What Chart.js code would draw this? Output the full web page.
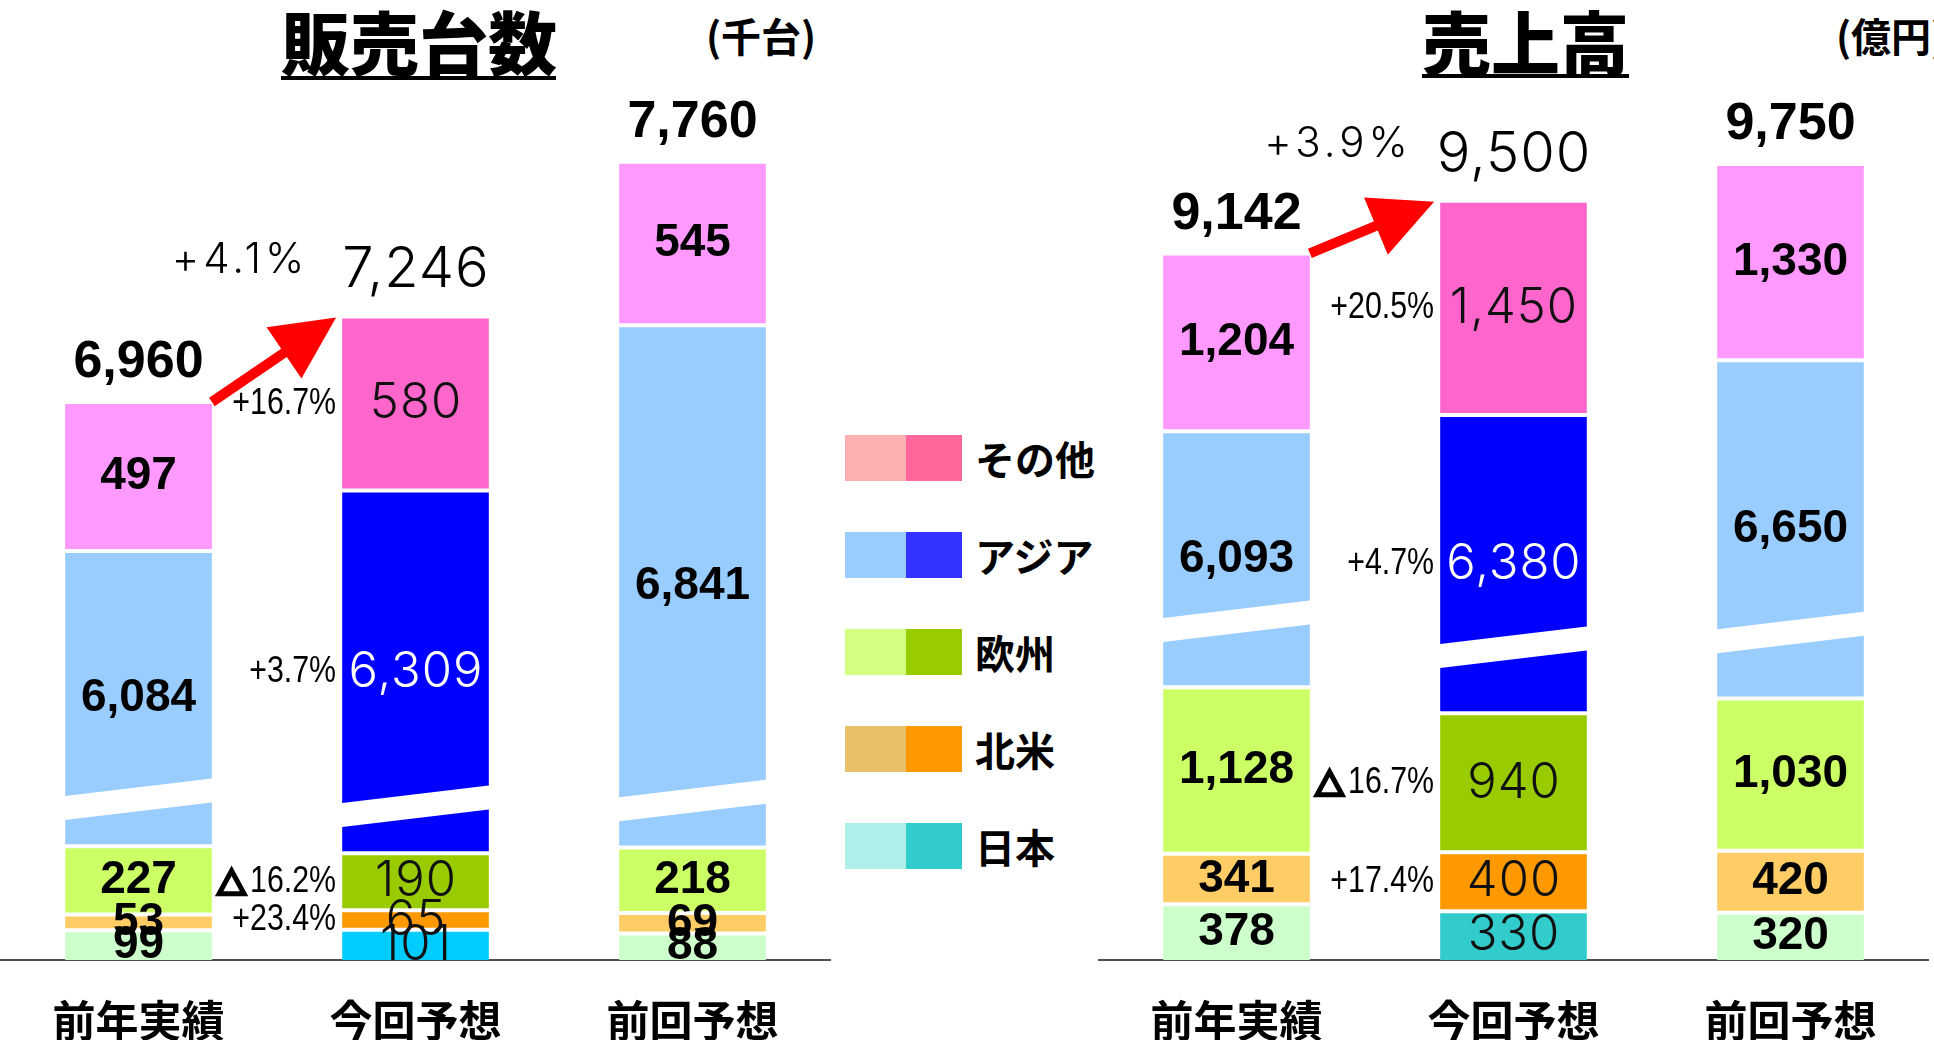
<!DOCTYPE html>
<html lang="ja">
<head>
<meta charset="utf-8">
<title>販売台数・売上高</title>
<script src="https://cdn.jsdelivr.net/npm/chart.js@4.4.0/dist/chart.umd.min.js"></script>
<style>
  html, body { margin: 0; padding: 0; background: #fff; width: 1934px; height: 1040px; overflow: hidden; }
  .chart-box { position: absolute; top: 0; width: 831px; height: 1040px; }
  #unitsBox { left: 0; }
  #salesBox { left: 1098px; }
  .title {
    position: absolute; top: 6px; margin: 0;
    font-family: "Noto Sans CJK JP", sans-serif; font-weight: 900; font-size: 69px; line-height: 1;
    white-space: nowrap;
  }
  .underline { position: absolute; height: 4px; background: #000; }
  .unit {
    position: absolute; top: 15px; white-space: nowrap;
    font-family: "Noto Sans CJK JP", sans-serif; font-weight: 700; font-size: 40px; line-height: 1;
  }
  .legend { position: absolute; left: 845px; top: 435px; }
  .legend-row { position: relative; height: 46px; margin-bottom: 51px; }
  .sw { position: absolute; top: 0; height: 46px; }
  .sw.light { left: 0; width: 61px; }
  .sw.dark { left: 61px; width: 56px; }
  .legend-row span {
    position: absolute; left: 130px; top: 0; line-height: 46px; white-space: nowrap;
    font-family: "Noto Sans CJK JP", sans-serif; font-weight: 700; font-size: 40px;
  }
</style>
</head>
<body>
<div class="title" style="left:281px;">販売台数</div>
<div class="underline" style="left:281px; top:76px; width:275px;"></div>
<div class="unit" style="left:706px;">(千台)</div>

<div class="title" style="left:1422px;">売上高</div>
<div class="underline" style="left:1422px; top:74px; width:207px;"></div>
<div class="unit" style="left:1836px;">(億円)</div>

<div class="chart-box" id="unitsBox"><canvas id="unitsChart" width="831" height="1040"></canvas></div>
<div class="chart-box" id="salesBox"><canvas id="salesChart" width="831" height="1040"></canvas></div>

<div class="legend" id="legend"></div>

<script>
// 地域別 販売台数 / 売上高
// - stacked bars, Asia segment shown with a broken axis
// - value labels, change rates and total growth arrow

const categories = ['前年実績', '今回予想', '前回予想'];
const regionNames = ['日本', '北米', '欧州', 'アジア', 'その他'];

// 販売台数 (千台)
const unitsJapan = [99, 101, 88];
const unitsNorthAmerica = [53, 65, 69];
const unitsEurope = [227, 190, 218];
const unitsAsia = [6084, 6309, 6841];
const unitsOther = [497, 580, 545];
const unitsTotal = [6960, 7246, 7760];
const unitsChange = ['', '+23.4%', '△16.2%', '+3.7%', '+16.7%'];
const unitsGrowth = '+4.1%';
const unitsAxisBreak = 5100;   // amount cut out of the Asia segment
const unitsAxisMax = 3200;

// 売上高 (億円)
const salesJapan = [378, 330, 320];
const salesNorthAmerica = [341, 400, 420];
const salesEurope = [1128, 940, 1030];
const salesAsia = [6093, 6380, 6650];
const salesOther = [1204, 1450, 1330];
const salesTotal = [9142, 9500, 9750];
const salesChange = ['', '+17.4%', '△16.7%', '+4.7%', '+20.5%'];
const salesGrowth = '+3.9%';
const salesAxisBreak = 4360;
const salesAxisMax = 6500;

// colours: region order 日本, 北米, 欧州, アジア, その他
const lightColors = ['#CCFFCC', '#FFCC66', '#CCFF66', '#99CCFF', '#FF99FF'];
const unitsDarkColors = ['#00CCFF', '#FF9900', '#99CC00', '#0000FF', '#FF66CC'];
const salesDarkColors = ['#33CCCC', '#FF9900', '#99CC00', '#0000FF', '#FF66CC'];
const legendLight = ['#FFB0B3', '#99CCFF', '#D4FF80', '#E8C068', '#B0EEEA'];
const legendDark = ['#FF6699', '#3333FF', '#99CC00', '#FF9900', '#33CCCC'];

const BOLD = 'bold 46px "Liberation Sans", Arial, sans-serif';
const BOLD_TOTAL = 'bold 52px "Liberation Sans", Arial, sans-serif';
const THIN = '300 49px Inter, "DejaVu Sans", sans-serif';
const THIN_TOTAL = '300 56px Inter, "DejaVu Sans", sans-serif';
const THIN_GROWTH = '300 42px Inter, "DejaVu Sans", sans-serif';
const NARROW = '37px "Liberation Sans", Arial, sans-serif';

function fmt(v) {
    return v.toLocaleString('en-US');
}

function drawText(ctx, text, x, y, font, color, spacing) {
    ctx.save();
    ctx.font = font;
    ctx.fillStyle = color;
    ctx.textAlign = 'center';
    ctx.textBaseline = 'middle';
    ctx.letterSpacing = (spacing || 0) + 'px';
    ctx.fillText(text, x + (spacing || 0) / 2, y);
    ctx.restore();
}

// condensed change-rate label, right aligned; △ drawn as a heavy outline
function drawNarrow(ctx, text, xRight, y) {
    let rest = text;
    let tri = false;
    if (text.charAt(0) === '△') {
        tri = true;
        rest = text.slice(1);
    }
    ctx.save();
    ctx.font = NARROW;
    const w = ctx.measureText(rest).width * 0.82;
    ctx.translate(xRight, y);
    ctx.scale(0.82, 1);
    ctx.fillStyle = '#000';
    ctx.textAlign = 'right';
    ctx.textBaseline = 'middle';
    ctx.fillText(rest, 0, 0);
    ctx.restore();
    if (tri) {
        const xr = xRight - w - 4;
        ctx.save();
        ctx.strokeStyle = '#000';
        ctx.lineWidth = 5;
        ctx.lineJoin = 'miter';
        ctx.beginPath();
        ctx.moveTo(xr - 27, y + 12);
        ctx.lineTo(xr - 2, y + 12);
        ctx.lineTo(xr - 14.5, y - 11);
        ctx.closePath();
        ctx.stroke();
        ctx.restore();
    }
}

function drawArrow(ctx, x1, y1, x2, y2) {
    const ang = Math.atan2(y2 - y1, x2 - x1);
    const headLen = 63, headHalf = 31;
    const bx = x2 - Math.cos(ang) * headLen;
    const by = y2 - Math.sin(ang) * headLen;
    ctx.save();
    ctx.strokeStyle = '#FF0000';
    ctx.fillStyle = '#FF0000';
    ctx.lineWidth = 10;
    ctx.beginPath();
    ctx.moveTo(x1, y1);
    ctx.lineTo(bx + Math.cos(ang) * 4, by + Math.sin(ang) * 4);
    ctx.stroke();
    ctx.beginPath();
    ctx.moveTo(x2, y2);
    ctx.lineTo(bx - Math.sin(ang) * headHalf, by + Math.cos(ang) * headHalf);
    ctx.lineTo(bx + Math.sin(ang) * headHalf, by - Math.cos(ang) * headHalf);
    ctx.closePath();
    ctx.fill();
    ctx.restore();
}

function makeChart(canvasId, cfg) {
    const series = cfg.series;

    const datasets = series.map((vals, i) => ({
        label: regionNames[i],
        data: i === 3 ? vals.map((v) => v - cfg.axisBreak) : vals,
        backgroundColor: vals.map((_, j) => (j === 1 ? cfg.dark[i] : lightColors[i])),
        borderColor: '#FFFFFF',
        borderWidth: { top: 2, bottom: i === 0 ? 0 : 2, left: 0, right: 0 },
        borderSkipped: false,
        categoryPercentage: 1,
        barPercentage: 0.53
    }));

    const labelsPlugin = {
        id: 'labels_' + canvasId,
        afterDatasetsDraw(chart) {
            const ctx = chart.ctx;
            const bars = series.map((_, i) => chart.getDatasetMeta(i).data);

            // broken axis gap on the Asia segment
            bars[3].forEach((bar) => {
                const l = bar.x - bar.width / 2 - 2;
                const r = bar.x + bar.width / 2 + 2;
                const y0 = bar.base - cfg.stub;
                ctx.save();
                ctx.fillStyle = '#FFFFFF';
                ctx.beginPath();
                ctx.moveTo(l, y0);
                ctx.lineTo(r, y0 - 18);
                ctx.lineTo(r, y0 - 18 - 24);
                ctx.lineTo(l, y0 - 24);
                ctx.closePath();
                ctx.fill();
                ctx.restore();
            });

            // segment values
            bars.forEach((list, i) => {
                list.forEach((bar, j) => {
                    const y = (bar.y + bar.base) / 2;
                    const text = fmt(series[i][j]);
                    if (j === 1) {
                        drawText(ctx, text, bar.x, y, THIN, i === 3 ? '#FFFFFF' : '#111111', 1);
                    } else {
                        drawText(ctx, text, bar.x, y, BOLD, '#000000', 0);
                    }
                });
            });

            // change rates beside 今回予想
            bars.forEach((list, i) => {
                const txt = cfg.change[i];
                if (!txt) return;
                const bar = list[1];
                drawNarrow(ctx, txt, bar.x - bar.width / 2 - 6, (bar.y + bar.base) / 2);
            });

            // totals
            bars[4].forEach((bar, j) => {
                if (j === 1) {
                    drawText(ctx, fmt(cfg.totals[j]), bar.x, bar.y - 46, THIN_TOTAL, '#000000', 1);
                } else {
                    drawText(ctx, fmt(cfg.totals[j]), bar.x, bar.y - 39, BOLD_TOTAL, '#000000', 0);
                }
            });

            // growth arrow from 前年実績 to 今回予想
            const b0 = bars[4][0];
            const b1 = bars[4][1];
            drawArrow(ctx, b0.x + b0.width / 2, b0.y, b1.x - b1.width / 2 - 6, b1.y + 1);
            drawText(ctx, cfg.growth, b1.x - b1.width / 2 - 104, b1.y - 56, THIN_GROWTH, '#000000', 4);
        }
    };

    return new Chart(document.getElementById(canvasId), {
        type: 'bar',
        data: { labels: categories, datasets: datasets },
        options: {
            responsive: false,
            maintainAspectRatio: false,
            animation: false,
            layout: { padding: 0 },
            plugins: {
                legend: { display: false },
                tooltip: { enabled: false }
            },
            scales: {
                x: {
                    stacked: true,
                    z: 1,
                    grid: { display: false, drawTicks: false },
                    border: { display: true, color: '#505050', width: 2 },
                    ticks: {
                        color: '#000000',
                        padding: 39,
                        font: { family: '"Noto Sans CJK JP", sans-serif', size: 43, weight: 'bold', lineHeight: 1 }
                    },
                    afterFit(scale) {
                        scale.height = 80;
                    }
                },
                y: {
                    stacked: true,
                    display: false,
                    min: 0,
                    max: cfg.yMax
                }
            }
        },
        plugins: [labelsPlugin]
    });
}

makeChart('unitsChart', {
    series: [unitsJapan, unitsNorthAmerica, unitsEurope, unitsAsia, unitsOther],
    totals: unitsTotal,
    change: unitsChange,
    growth: unitsGrowth,
    axisBreak: unitsAxisBreak,
    yMax: unitsAxisMax,
    dark: unitsDarkColors,
    stub: 26
});

makeChart('salesChart', {
    series: [salesJapan, salesNorthAmerica, salesEurope, salesAsia, salesOther],
    totals: salesTotal,
    change: salesChange,
    growth: salesGrowth,
    axisBreak: salesAxisBreak,
    yMax: salesAxisMax,
    dark: salesDarkColors,
    stub: 45
});

// legend (top to bottom: その他 ... 日本)
const legend = document.getElementById('legend');
regionNames.slice().reverse().forEach((name, k) => {
    const row = document.createElement('div');
    row.className = 'legend-row';
    row.innerHTML = '<div class="sw light" style="background:' + legendLight[k] + '"></div>' +
        '<div class="sw dark" style="background:' + legendDark[k] + '"></div>' +
        '<span>' + name + '</span>';
    legend.appendChild(row);
});
</script>
</body>
</html>
